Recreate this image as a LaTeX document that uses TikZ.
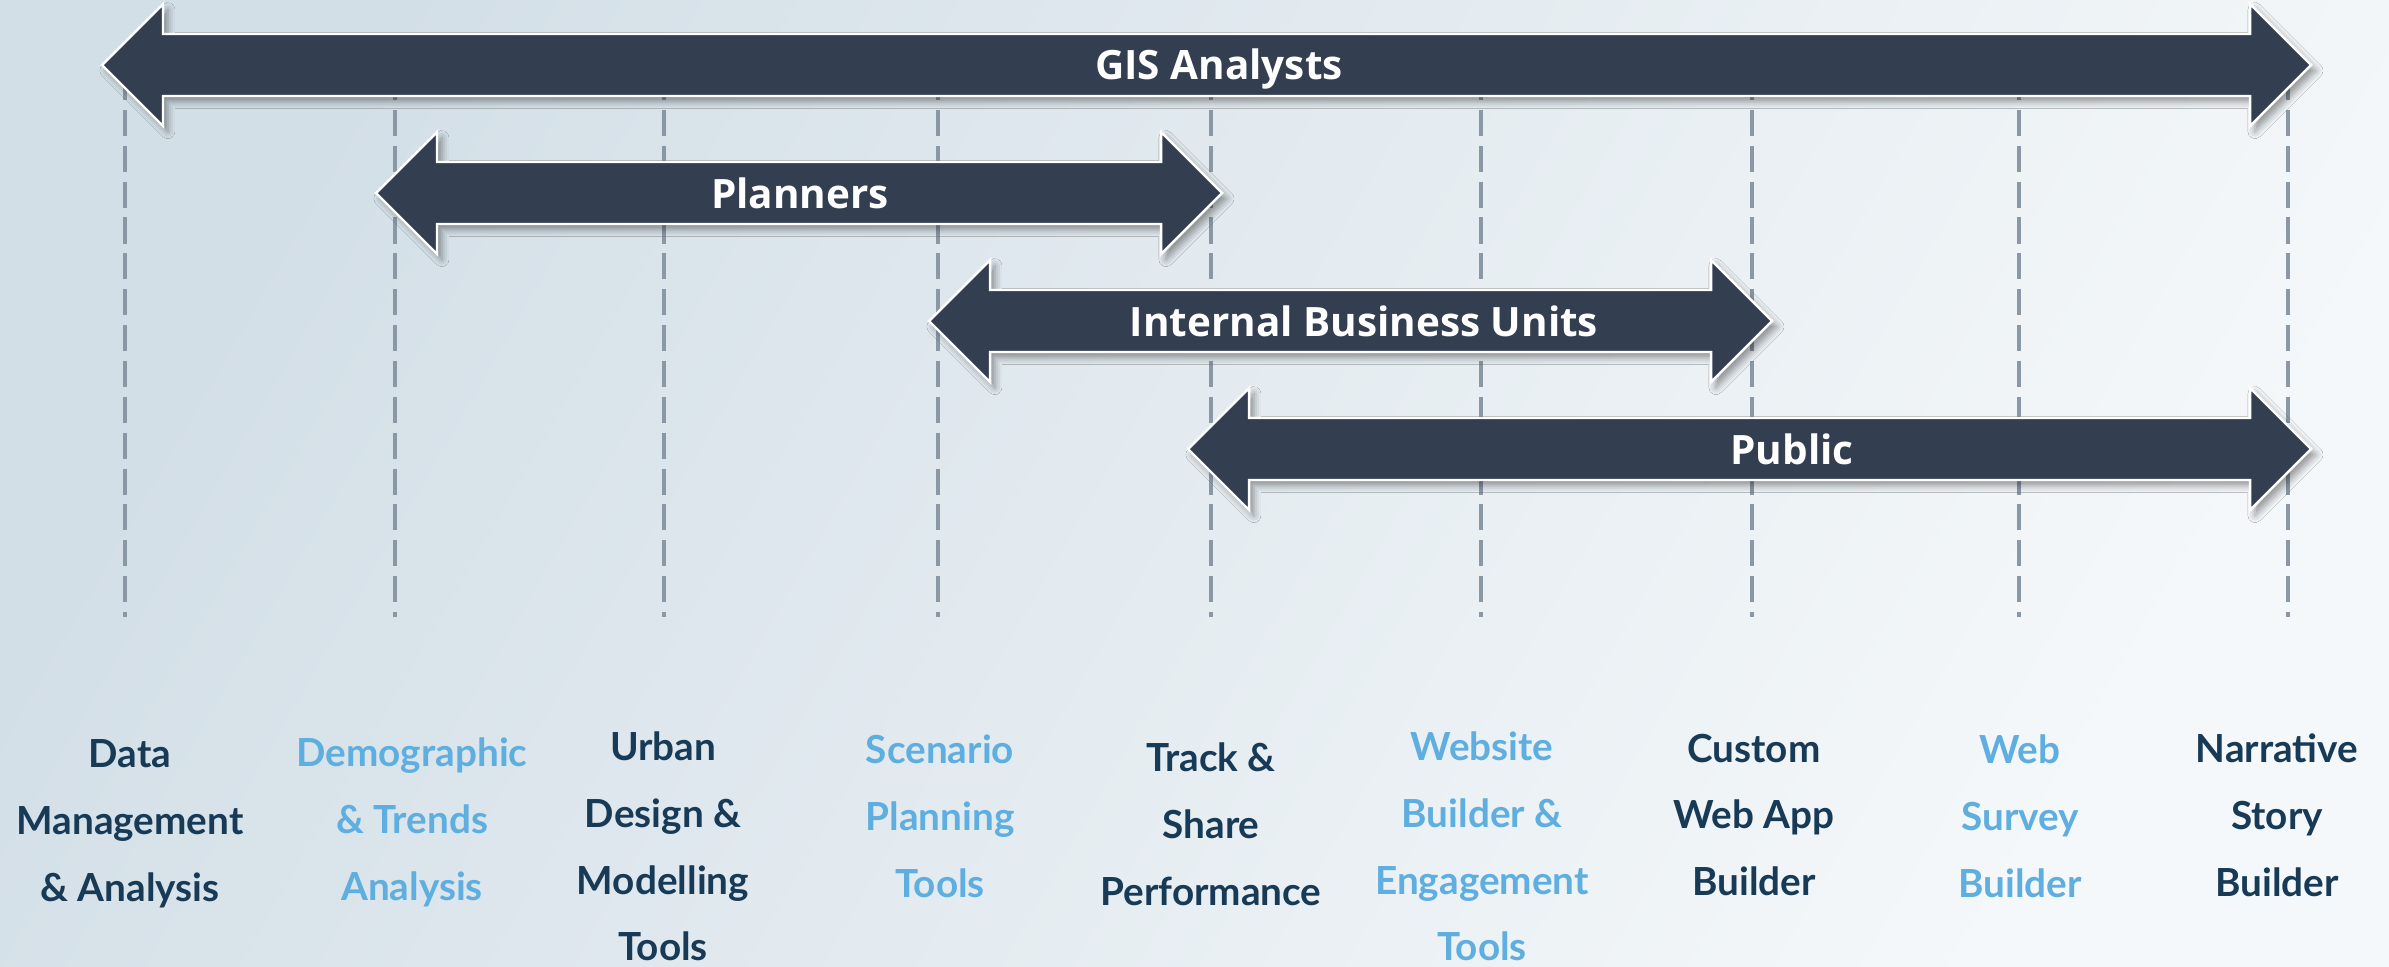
\documentclass[tikz,border=0pt]{standalone}
\usepackage{fontspec}
\setmainfont{Lato}
\newfontfamily\bandfont{Open Sans}
\usetikzlibrary{shadows.blur}

\definecolor{bgleft}{HTML}{D3DFE7}
\definecolor{bgright}{HTML}{F5F8FA}
\definecolor{bandfill}{HTML}{343E51}
\definecolor{guidecol}{HTML}{8A98A6}
\definecolor{tooldark}{HTML}{173A57}
\definecolor{toollight}{HTML}{5FAEE0}

\begin{document}
\begin{tikzpicture}[x=0.01cm,y=-0.01cm,
    band/.style={fill=bandfill,draw=white,line width=0.7pt,
      blur shadow={shadow xshift=1.4pt,shadow yshift=-1.6pt,shadow blur radius=2pt,shadow opacity=40}},
    bandtext/.style={text=white,inner sep=0pt,font=\bandfont\bfseries\fontsize{11.5}{14}\selectfont},
    guide/.style={draw=guidecol,line width=0.95pt,dash pattern=on 7.4pt off 2.8pt},
    tool/.style={align=center,anchor=north,inner sep=0pt,font=\bfseries\fontsize{11}{19}\selectfont},
    dark/.style={tool,text=tooldark},
    light/.style={tool,text=toollight}]

  % background
  \useasboundingbox (0,0) rectangle (2389,966);
  \shade[left color=bgleft,right color=bgright,shading angle=60] (0,0) rectangle (2389,966);

  % column guides
  \coordinate (g1t) at (125,74);   \coordinate (g1b) at (125,617);
  \coordinate (g2t) at (395,74);   \coordinate (g2b) at (395,617);
  \coordinate (g3t) at (664,74);   \coordinate (g3b) at (664,617);
  \coordinate (g4t) at (938,74);   \coordinate (g4b) at (938,617);
  \coordinate (g5t) at (1211,74);  \coordinate (g5b) at (1211,617);
  \coordinate (g6t) at (1481,74);  \coordinate (g6b) at (1481,617);
  \coordinate (g7t) at (1752,74);  \coordinate (g7b) at (1752,617);
  \coordinate (g8t) at (2019,74);  \coordinate (g8b) at (2019,617);
  \coordinate (g9t) at (2288,74);  \coordinate (g9b) at (2288,617);
  \draw[guide] (g1t) -- (g1b);
  \draw[guide] (g2t) -- (g2b);
  \draw[guide] (g3t) -- (g3b);
  \draw[guide] (g4t) -- (g4b);
  \draw[guide] (g5t) -- (g5b);
  \draw[guide] (g6t) -- (g6b);
  \draw[guide] (g7t) -- (g7b);
  \draw[guide] (g8t) -- (g8b);
  \draw[guide] (g9t) -- (g9b);

  % user groups
  \draw[band] (102,65) -- (163,4) -- (163,34) -- (2250,34) -- (2250,4) -- (2311,65)
    -- (2250,126) -- (2250,96) -- (163,96) -- (163,126) -- cycle;
  \node[bandtext] (gis) at (1219,69) {GIS Analysts};

  \draw[band] (376,193) -- (437,132) -- (437,162) -- (1161,162) -- (1161,132) -- (1222,193)
    -- (1161,254) -- (1161,224) -- (437,224) -- (437,254) -- cycle;
  \node[bandtext] (planners) at (800,193) {Planners};

  \draw[band] (929,321) -- (990,260) -- (990,290) -- (1711,290) -- (1711,260) -- (1772,321)
    -- (1711,382) -- (1711,352) -- (990,352) -- (990,382) -- cycle;
  \node[bandtext] (business) at (1364,321) {Internal Business Units};

  \draw[band] (1188,449) -- (1249,388) -- (1249,418) -- (2250,418) -- (2250,388) -- (2311,449)
    -- (2250,510) -- (2250,480) -- (1249,480) -- (1249,510) -- cycle;
  \node[bandtext] (public) at (1792,449) {Public};

  % tools
  \node[dark]  (data)     at (130,739)  {Data\\Management\\\& Analysis};
  \node[light] (demog)    at (412,737)  {Demographic\\\& Trends\\Analysis};
  \node[dark]  (urban)    at (663,731)  {Urban\\Design \&\\Modelling\\Tools};
  \node[light] (scenario) at (940,734)  {Scenario\\Planning\\Tools};
  \node[dark]  (track)    at (1211,742) {Track \&\\Share\\Performance};
  \node[light] (website)  at (1482,731) {Website\\Builder \&\\Engagement\\Tools};
  \node[dark]  (custom)   at (1754,733) {Custom\\Web App\\Builder};
  \node[light] (survey)   at (2020,734) {Web\\Survey\\Builder};
  \node[dark]  (story)    at (2277,733) {Narrative\\Story\\Builder};
\end{tikzpicture}
\end{document}
